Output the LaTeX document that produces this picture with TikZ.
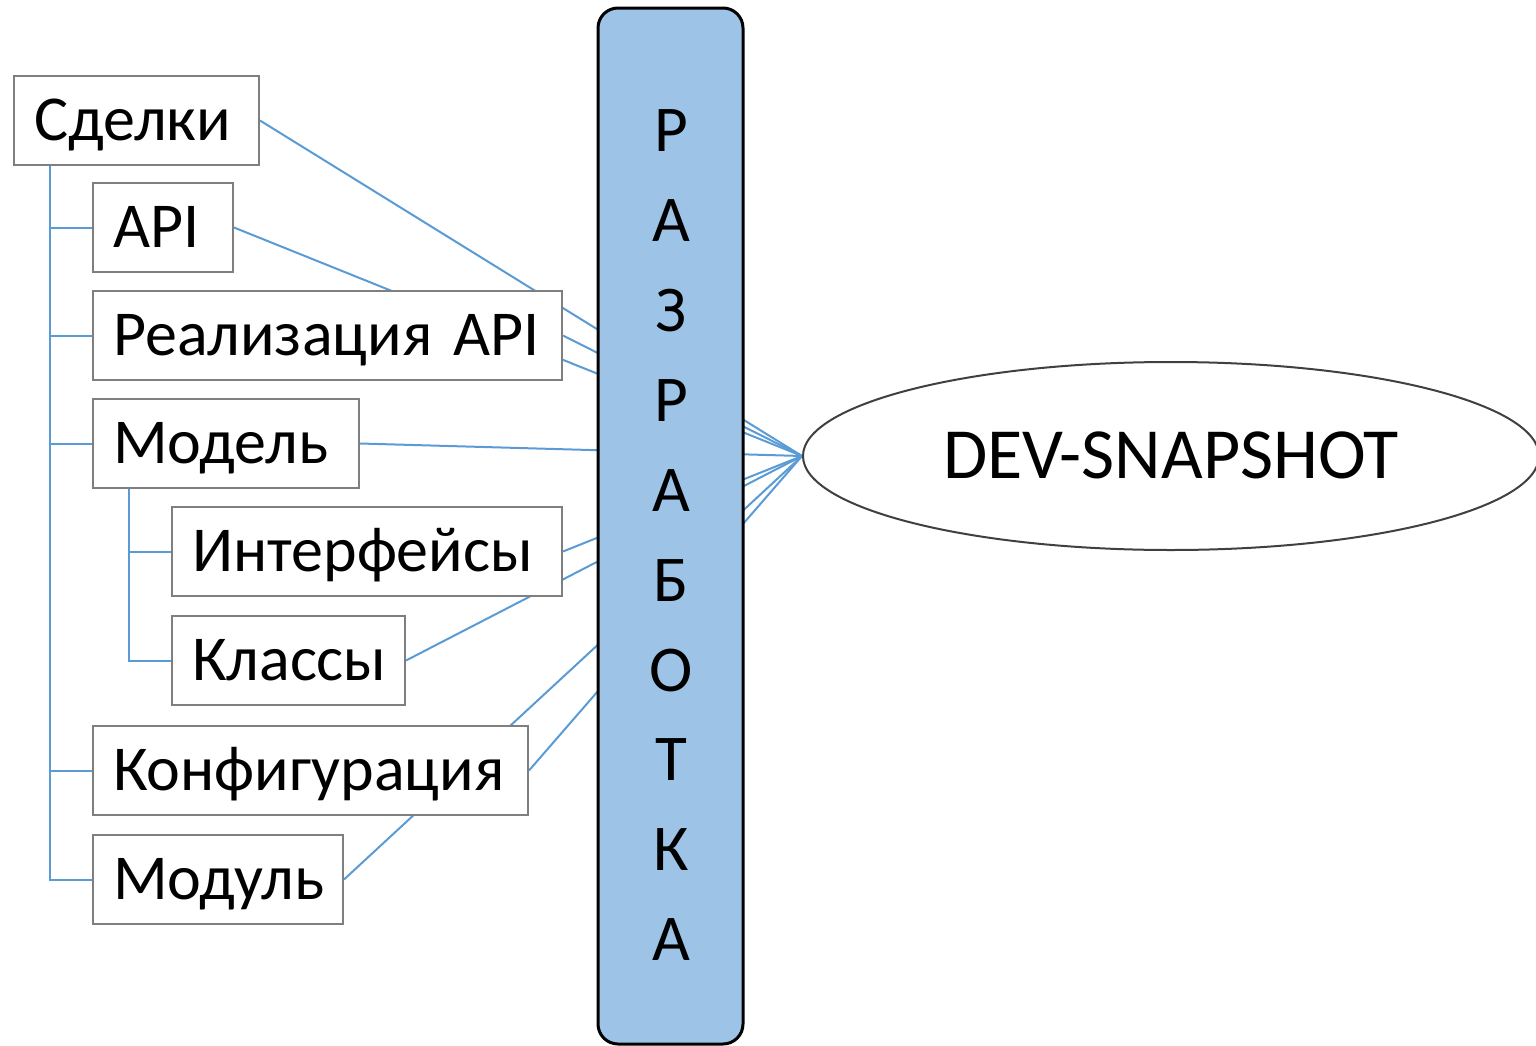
\documentclass[tikz,border=0pt]{standalone}
\usepackage{fontspec}
\setmainfont{Carlito}
\usetikzlibrary{positioning,backgrounds,shapes.geometric}
\definecolor{devLine}{HTML}{5B9BD5}
\definecolor{devSky}{HTML}{9DC3E6}
\definecolor{devGray}{HTML}{7F7F7F}
\definecolor{devInk}{HTML}{404040}

\begin{document}
\begin{tikzpicture}[x=0.75pt,y=-0.75pt,
  item/.style={draw=devGray,line width=1.5pt,fill=white,anchor=north west,
    minimum height=66.75pt,inner xsep=15pt,inner ysep=0pt,align=left,
    font=\fontsize{48}{58}\selectfont,text height=30.3pt,text depth=0pt},
  letter/.style={font=\fontsize{49}{59}\selectfont,text height=31pt,
    text depth=0pt,inner sep=0pt},
  link/.style={draw=devLine,line width=1.5pt},
  tree/.style={draw=devLine,line width=1.5pt}]
  \useasboundingbox (0,0) rectangle (1536,1046);

  % work column and the snapshot
  \node[draw=black,line width=2.25pt,fill=devSky,rounded corners=15pt,
        minimum width=108.75pt,minimum height=777pt] (work) at (670.5,526) {};
  \foreach \ch [count=\i from 0] in {Р,А,З,Р,А,Б,О,Т,К,А}
    \node[letter] (l\i) at (671,131+89.9*\i) {\ch};
  \node[ellipse,draw=devInk,line width=1.5pt,minimum width=552pt,
        minimum height=141pt,inner sep=0pt,font=\fontsize{54}{65}\selectfont,
        text height=34.1pt,text depth=0pt] (snap) at (1171,456) {DEV-SNAPSHOT};

  % project tree
  \node[item,text width=153.75pt] (deals) at (13,75)  {Сделки};
  \node[item,text width=75pt]     (api)   at (92,182) {API};
  \node[item,text width=321.75pt] (impl)  at (92,290) {Реализация~API};
  \node[item,text width=169.5pt]  (model) at (92,398) {Модель};
  \node[item,text width=262.5pt]  (iface) at (171,506) {Интерфейсы};
  \node[item,text width=144.75pt] (cls)   at (171,615) {Классы};
  \node[item,text width=296.25pt] (conf)  at (92,725) {Конфигурация};
  \node[item,text width=157.5pt]  (mod)   at (92,834) {Модуль};

  \coordinate (trunk)  at ([xshift=27.75pt]deals.south west);
  \coordinate (branch) at ([xshift=27.75pt]model.south west);

  \begin{scope}[on background layer]
    \foreach \n in {deals,api,impl,model,iface,cls,conf,mod}
      \draw[link] (\n.east) -- (snap.west);
    \foreach \n in {api,impl,model,conf,mod}
      \draw[tree] (trunk) |- (\n.west);
    \foreach \n in {iface,cls}
      \draw[tree] (branch) |- (\n.west);
  \end{scope}
\end{tikzpicture}
\end{document}
